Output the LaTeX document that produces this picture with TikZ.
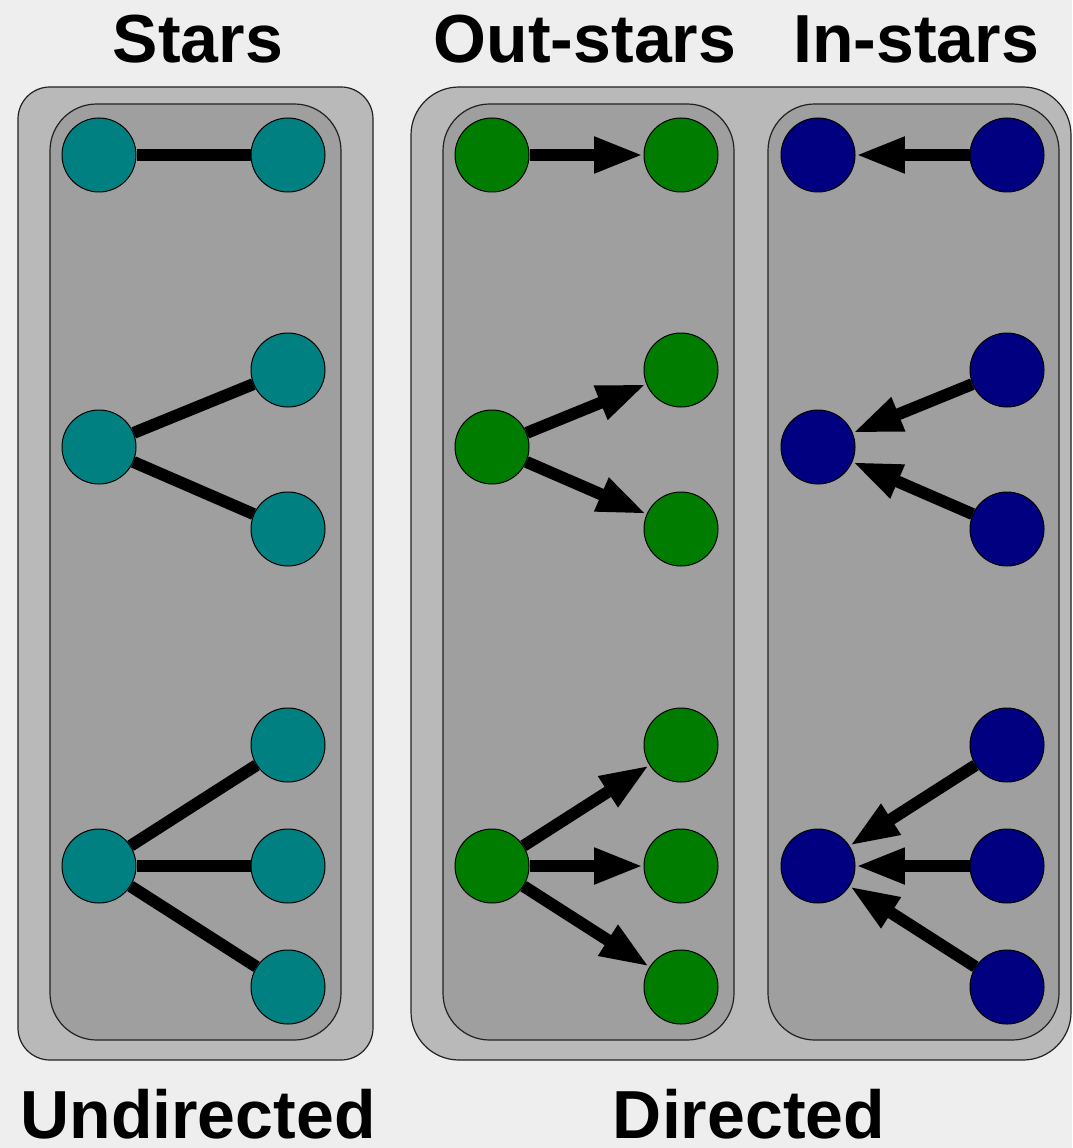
\documentclass[tikz,border=0pt]{standalone}
\usepackage{fontspec}
\setmainfont{Liberation Sans}
\usetikzlibrary{arrows.meta}
\definecolor{bgpaper}{HTML}{EEEEEE}
\definecolor{outerfill}{HTML}{B9B9B9}
\definecolor{innerfill}{HTML}{9F9F9F}
\definecolor{boxline}{HTML}{222222}
\definecolor{teal}{HTML}{008080}
\definecolor{leaf}{HTML}{007C00}
\definecolor{navy}{HTML}{000080}
\tikzset{
  outerbox/.style={draw=boxline, line width=0.9pt, fill=outerfill},
  innerbox/.style={draw=boxline, line width=0.9pt, fill=innerfill, rounded corners=35pt},
  vertex/.style={circle, draw=black, line width=0.75pt, minimum size=55.5pt, inner sep=0pt},
  ustar/.style={vertex, fill=teal},
  ostar/.style={vertex, fill=leaf},
  istar/.style={vertex, fill=navy},
  tie/.style={line width=9pt, black},
  arc/.style={line width=9pt, black, -{Triangle[length=37pt, width=25pt]}},
  heading/.style={font=\bfseries\fontsize{51}{60}\selectfont, anchor=base, inner sep=0pt}
}
\begin{document}
\begin{tikzpicture}[x=0.75pt, y=-0.75pt]
  \useasboundingbox (0,0) rectangle (1072,1148);
  \fill[bgpaper] (0,0) rectangle (1072,1148);

  % group frames
  \draw[outerbox, rounded corners=24pt] (18,87) rectangle (373,1060);
  \draw[outerbox, rounded corners=36pt] (411,87) rectangle (1071,1060);

  % panels
  \draw[innerbox] (50,104) rectangle (341,1040);
  \draw[innerbox] (443,104) rectangle (734,1040);
  \draw[innerbox] (768,104) rectangle (1059,1040);

  % headings
  \node[heading] (tStars) at (198,63) {Stars};
  \node[heading] (tOut) at (585,63) {Out-stars};
  \node[heading] (tIn) at (916,63) {In-stars};
  \node[heading] (tUnd) at (198,1138) {Undirected};
  \node[heading] (tDir) at (749,1138) {Directed};

  % undirected stars
  \node[ustar] (s1a) at (99,155) {};
  \node[ustar] (s1b) at (288,155) {};
  \node[ustar] (s2c) at (99,447) {};
  \node[ustar] (s2a) at (288,370) {};
  \node[ustar] (s2b) at (288,529) {};
  \node[ustar] (s3c) at (99,866) {};
  \node[ustar] (s3a) at (288,745) {};
  \node[ustar] (s3b) at (288,866) {};
  \node[ustar] (s3d) at (288,987) {};
  \draw[tie] (s1a) -- (s1b);
  \draw[tie] (s2c) -- (s2a);
  \draw[tie] (s2c) -- (s2b);
  \draw[tie] (s3c) -- (s3a);
  \draw[tie] (s3c) -- (s3b);
  \draw[tie] (s3c) -- (s3d);

  % out-stars
  \node[ostar] (o1a) at (492,155) {};
  \node[ostar] (o1b) at (681,155) {};
  \node[ostar] (o2c) at (492,447) {};
  \node[ostar] (o2a) at (681,370) {};
  \node[ostar] (o2b) at (681,529) {};
  \node[ostar] (o3c) at (492,866) {};
  \node[ostar] (o3a) at (681,745) {};
  \node[ostar] (o3b) at (681,866) {};
  \node[ostar] (o3d) at (681,987) {};
  \draw[arc] (o1a) -- (o1b);
  \draw[arc] (o2c) -- (o2a);
  \draw[arc] (o2c) -- (o2b);
  \draw[arc] (o3c) -- (o3a);
  \draw[arc] (o3c) -- (o3b);
  \draw[arc] (o3c) -- (o3d);

  % in-stars
  \node[istar] (i1a) at (818,155) {};
  \node[istar] (i1b) at (1007,155) {};
  \node[istar] (i2c) at (818,447) {};
  \node[istar] (i2a) at (1007,370) {};
  \node[istar] (i2b) at (1007,529) {};
  \node[istar] (i3c) at (818,866) {};
  \node[istar] (i3a) at (1007,745) {};
  \node[istar] (i3b) at (1007,866) {};
  \node[istar] (i3d) at (1007,987) {};
  \draw[arc] (i1b) -- (i1a);
  \draw[arc] (i2a) -- (i2c);
  \draw[arc] (i2b) -- (i2c);
  \draw[arc] (i3a) -- (i3c);
  \draw[arc] (i3b) -- (i3c);
  \draw[arc] (i3d) -- (i3c);
\end{tikzpicture}
\end{document}
